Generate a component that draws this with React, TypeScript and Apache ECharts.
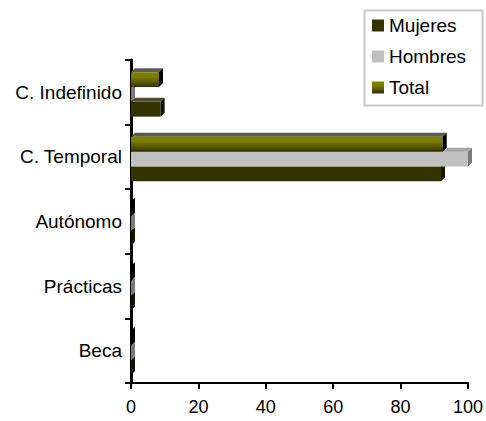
import React, { useEffect, useRef } from "react";
import * as echarts from "echarts";

const categories = ["Beca", "Prácticas", "Autónomo", "C. Temporal", "C. Indefinido"];
const mujeres = [0, 0, 0, 92, 8.8];
const hombres = [0, 0, 0, 100, 0];
const total = [0, 0, 0, 92.5, 8.3];
const xTicks = [0, 20, 40, 60, 80, 100];

const FONT = "Arial, 'Liberation Sans', sans-serif";

const totalGrad = new echarts.graphic.LinearGradient(0, 0, 0, 1, [
  { offset: 0, color: "#808000" },
  { offset: 0.35, color: "#7a7a00" },
  { offset: 1, color: "#333300" },
]);

type SeriesDef = {
  name: string;
  values: number[];
  k: number;
  front: any;
  top: string;
  side: string;
};

const defs: SeriesDef[] = [
  { name: "Mujeres", values: mujeres, k: 2, front: "#333300", top: "#4d4d33", side: "#141400" },
  { name: "Hombres", values: hombres, k: 1, front: "#c0c0c0", top: "#a6a6a6", side: "#7a7a7a" },
  { name: "Total", values: total, k: 0, front: totalGrad, top: "#5a5a5a", side: "#000000" },
];

function makeSeries(d: SeriesDef) {
  return {
    type: "custom",
    name: d.name,
    itemStyle: { color: d.front },
    encode: { x: 0, y: 1 },
    data: d.values.map((v, i) => [v, i]),
    renderItem: (params: any, api: any) => {
      const v = api.value(0);
      const c = api.value(1);
      const p0 = api.coord([0, c]);
      const p1 = api.coord([v, c]);
      const band = api.size([0, 1])[1];
      const h = band * 0.229;
      const dep = 4;
      const x0 = p0[0];
      const x1 = p1[0];
      const y = p0[1] - band * 0.31 + d.k * h;
      return {
        type: "group",
        children: [
          {
            type: "rect",
            shape: { x: x0, y: y, width: Math.max(x1 - x0, 0), height: h },
            style: { fill: d.front },
          },
          {
            type: "polygon",
            shape: { points: [[x0, y], [x0 + dep, y - dep], [x1 + dep, y - dep], [x1, y]] },
            style: { fill: d.top },
          },
          {
            type: "polygon",
            shape: { points: [[x1, y], [x1 + dep, y - dep], [x1 + dep, y + h - dep], [x1, y + h]] },
            style: { fill: d.side },
          },
        ],
      };
    },
  };
}

export default function App() {
  const ref = useRef<HTMLDivElement>(null);
  useEffect(() => {
    if (!ref.current) return;
    const chart = echarts.init(ref.current, null, { renderer: "svg" });
    chart.setOption({
      animation: false,
      backgroundColor: "#ffffff",
      textStyle: { fontFamily: FONT },
      grid: { left: 131, right: 16, top: 60, bottom: 38, containLabel: false },
      xAxis: {
        type: "value",
        min: xTicks[0],
        max: xTicks[xTicks.length - 1],
        interval: 20,
        splitLine: { show: false },
        axisLine: { show: true, lineStyle: { color: "#000", width: 2 } },
        axisTick: { show: true, length: 6, lineStyle: { color: "#000", width: 2 } },
        axisLabel: { color: "#000", fontSize: 18, fontFamily: FONT, margin: 15 },
      },
      yAxis: {
        type: "category",
        data: categories,
        axisLine: { show: true, lineStyle: { color: "#000", width: 3 } },
        axisTick: { show: true, length: 6, lineStyle: { color: "#000", width: 2 } },
        axisLabel: { color: "#000", fontSize: 19, fontFamily: FONT, margin: 9 },
      },
      legend: {
        orient: "vertical",
        left: 367,
        top: 11,
        icon: "rect",
        itemWidth: 12,
        itemHeight: 12,
        itemGap: 12,
        itemTextGap: 4,
        itemStyle: { borderWidth: 0 },
        textStyle: { fontSize: 19, color: "#000", fontFamily: FONT },
        data: ["Mujeres", "Hombres", "Total"],
      },
      graphic: [
        {
          type: "rect",
          left: 362,
          top: 8,
          shape: { width: 118, height: 95 },
          style: { fill: "none", stroke: "#c8c8c8", lineWidth: 2 },
          z: -1,
        },
      ],
      series: defs.map(makeSeries),
    });
    return () => chart.dispose();
  }, []);
  return (
    <div
      ref={ref}
      style={{ position: "fixed", left: 0, top: 0, width: 486, height: 421 }}
    />
  );
}
